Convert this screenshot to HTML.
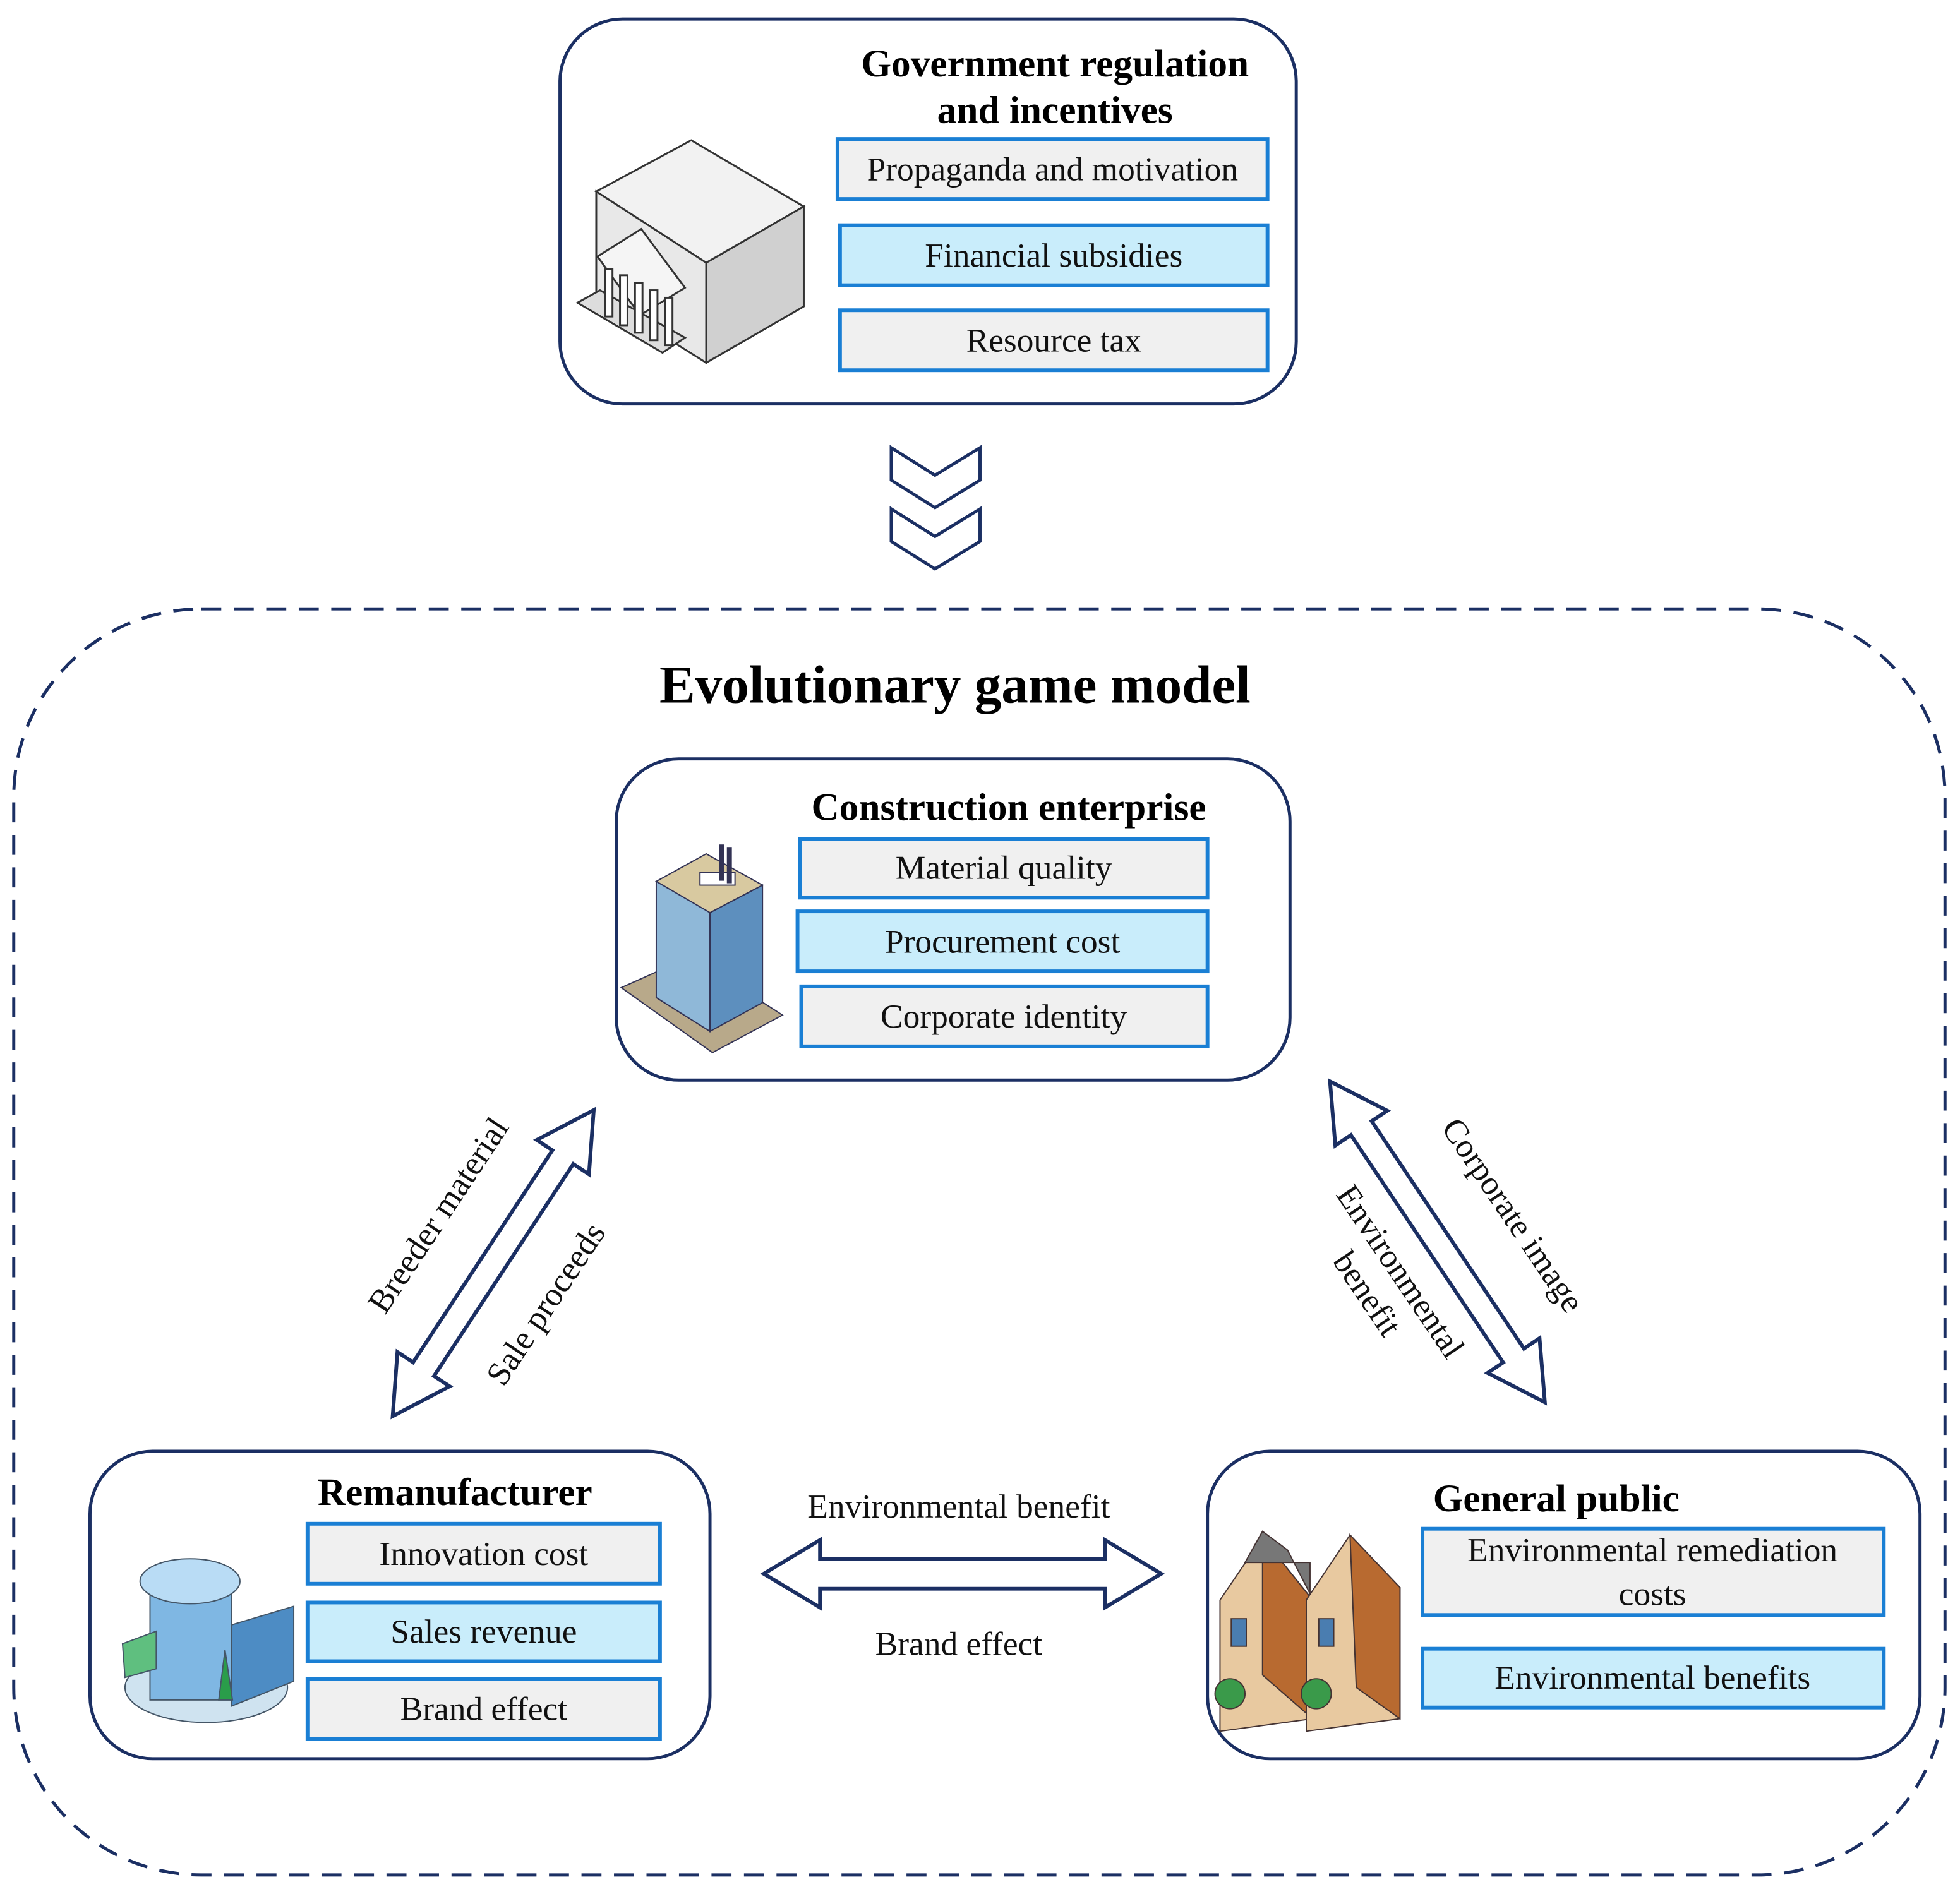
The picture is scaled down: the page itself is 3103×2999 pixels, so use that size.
<!DOCTYPE html>
<html><head><meta charset="utf-8"><style>html,body{margin:0;padding:0;background:#fff}svg{display:block}svg text{font-family:"Liberation Serif","DejaVu Serif",serif}</style></head>
<body>
<svg width="3103" height="2999" viewBox="0 0 1568 1515" xmlns="http://www.w3.org/2000/svg" style="font-family:'Liberation Serif',serif">
<rect width="1568" height="1515" fill="#fff"/>
<rect x="448" y="15" width="589" height="308" rx="50" fill="#fff" stroke="#1b2f63" stroke-width="2.5"/>
<text x="844" y="61" font-size="31" font-weight="bold" text-anchor="middle">Government regulation</text>
<text x="844" y="98" font-size="31" font-weight="bold" text-anchor="middle">and incentives</text>
<g stroke="#1a7fd4" stroke-width="3">
<rect x="670" y="111" width="344" height="48" fill="#f0f0f0"/>
<rect x="672" y="180" width="342" height="48" fill="#c9edfb"/>
<rect x="672" y="248" width="342" height="48" fill="#f0f0f0"/>
<rect x="640" y="671" width="326" height="47" fill="#f0f0f0"/>
<rect x="638" y="729" width="328" height="48" fill="#c9edfb"/>
<rect x="641" y="789" width="325" height="48" fill="#f0f0f0"/>
<rect x="246" y="1219" width="282" height="48" fill="#f0f0f0"/>
<rect x="246" y="1282" width="282" height="47" fill="#c9edfb"/>
<rect x="246" y="1343" width="282" height="48" fill="#f0f0f0"/>
<rect x="1138" y="1223" width="369" height="69" fill="#f0f0f0"/>
<rect x="1138" y="1319" width="369" height="47" fill="#c9edfb"/>
</g>
<g font-size="27" text-anchor="middle" fill="#111">
<text x="842" y="144">Propaganda and motivation</text>
<text x="843" y="213">Financial subsidies</text>
<text x="843" y="281">Resource tax</text>
<text x="803" y="703">Material quality</text>
<text x="802" y="762">Procurement cost</text>
<text x="803" y="822">Corporate identity</text>
<text x="387" y="1252">Innovation cost</text>
<text x="387" y="1314">Sales revenue</text>
<text x="387" y="1376">Brand effect</text>
<text x="1322" y="1249">Environmental remediation</text>
<text x="1322" y="1284">costs</text>
<text x="1322" y="1351">Environmental benefits</text>
</g>
<g stroke="#333" stroke-width="1.5">
<polygon points="477,153 553,112 643,165 565,210" fill="#f2f2f2"/>
<polygon points="477,153 565,210 565,290 477,235" fill="#e8e8e8"/>
<polygon points="565,210 643,165 643,245 565,290" fill="#d0d0d0"/>
<polygon points="462,242 530,282 548,270 480,232" fill="#ddd"/>
<polygon points="478,205 513,183 548,230 512,252" fill="#f5f5f5"/>
<g fill="#fff"><rect x="484" y="215" width="6" height="38"/><rect x="496" y="220" width="6" height="40"/><rect x="508" y="226" width="6" height="40"/><rect x="520" y="232" width="6" height="40"/><rect x="532" y="238" width="6" height="38"/></g>
</g>
<g fill="none" stroke="#1b2f63" stroke-width="2.5">
<polygon points="713,358 748,380 784,358 784,384 748,406 713,384"/>
<polygon points="713,407 748,429 784,407 784,433 748,455 713,433"/>
</g>
<rect x="11" y="487" width="1545" height="1013" rx="150" fill="none" stroke="#1b2f63" stroke-width="2.5" stroke-dasharray="16,10"/>
<text x="764" y="562" font-size="43" font-weight="bold" text-anchor="middle">Evolutionary game model</text>
<rect x="493" y="607" width="539" height="257" rx="50" fill="none" stroke="#1b2f63" stroke-width="2.5"/>
<text x="807" y="656" font-size="31" font-weight="bold" text-anchor="middle">Construction enterprise</text>
<g stroke="#335" stroke-width="1">
<polygon points="497,790 570,842 626,812 553,765" fill="#b8a98a"/>
<polygon points="525,705 568,730 568,825 525,798" fill="#8fb8d8"/>
<polygon points="568,730 610,708 610,802 568,825" fill="#5d8fbe"/>
<polygon points="525,705 565,683 610,708 568,730" fill="#d8c9a0"/>
<rect x="560" y="698" width="28" height="10" fill="#fff"/>
<rect x="576" y="676" width="3" height="28" fill="#335"/><rect x="582" y="678" width="3" height="28" fill="#335"/>
</g>
<rect x="72" y="1161" width="496" height="246" rx="50" fill="none" stroke="#1b2f63" stroke-width="2.5"/>
<text x="364" y="1204" font-size="31" font-weight="bold" text-anchor="middle">Remanufacturer</text>
<g stroke="#456" stroke-width="1">
<ellipse cx="165" cy="1350" rx="65" ry="28" fill="#cfe3f0"/>
<polygon points="185,1300 235,1285 235,1345 185,1365" fill="#4d8cc4"/>
<rect x="120" y="1265" width="65" height="95" fill="#7fb7e3"/>
<ellipse cx="152" cy="1265" rx="40" ry="18" fill="#b9dcf5"/>
<polygon points="98,1315 125,1305 125,1335 100,1342" fill="#5fbf7f"/>
<polygon points="175,1360 180,1320 186,1360" fill="#2a9d4a"/>
</g>
<rect x="966" y="1161" width="570" height="246" rx="50" fill="none" stroke="#1b2f63" stroke-width="2.5"/>
<text x="1245" y="1209" font-size="31" font-weight="bold" text-anchor="middle">General public</text>
<g stroke="#433" stroke-width="1">
<polygon points="976,1280 1010,1230 1050,1280 1050,1375 976,1385" fill="#e8c9a0"/>
<polygon points="1010,1230 1050,1280 1050,1375 1010,1340" fill="#b86a30"/>
<polygon points="996,1250 1010,1225 1030,1240 1048,1275 1048,1250" fill="#777"/>
<polygon points="1045,1280 1080,1228 1120,1270 1120,1375 1045,1385" fill="#e8c9a0"/>
<polygon points="1080,1228 1120,1270 1120,1375 1085,1350" fill="#b86a30"/>
<circle cx="984" cy="1355" r="12" fill="#3a9a4a"/><circle cx="1053" cy="1355" r="12" fill="#3a9a4a"/>
<rect x="985" y="1295" width="12" height="22" fill="#4a7db0"/><rect x="1055" y="1295" width="12" height="22" fill="#4a7db0"/>
</g>
<g fill="#fff" stroke="#1b2f63" stroke-width="3" stroke-linejoin="miter">
<g transform="translate(475,888) rotate(123.3)"><polygon points="0,0 45,-25 45,-10 248,-10 248,-25 293,0 248,25 248,10 45,10 45,25"/></g>
<g transform="translate(1064,865) rotate(56.2)"><polygon points="0,0 45,-25 45,-10 264,-10 264,-25 309,0 264,25 264,10 45,10 45,25"/></g>
<g transform="translate(611,1259)"><polygon points="0,0 45,-27 45,-12 273,-12 273,-27 318,0 273,27 273,12 45,12 45,27"/></g>
</g>
<g font-size="27" text-anchor="middle" fill="#111">
<text transform="translate(358,977) rotate(-56.5)">Breeder material</text>
<text transform="translate(444,1048) rotate(-56.5)">Sale proceeds</text>
<text transform="translate(1203,977) rotate(56)">Corporate image</text>
<text transform="translate(1113,1022) rotate(56)"><tspan x="0" y="0">Environmental</tspan><tspan x="0" y="32">benefit</tspan></text>
<text x="767" y="1214">Environmental benefit</text>
<text x="767" y="1324">Brand effect</text>
</g>
</svg>
</body></html>
